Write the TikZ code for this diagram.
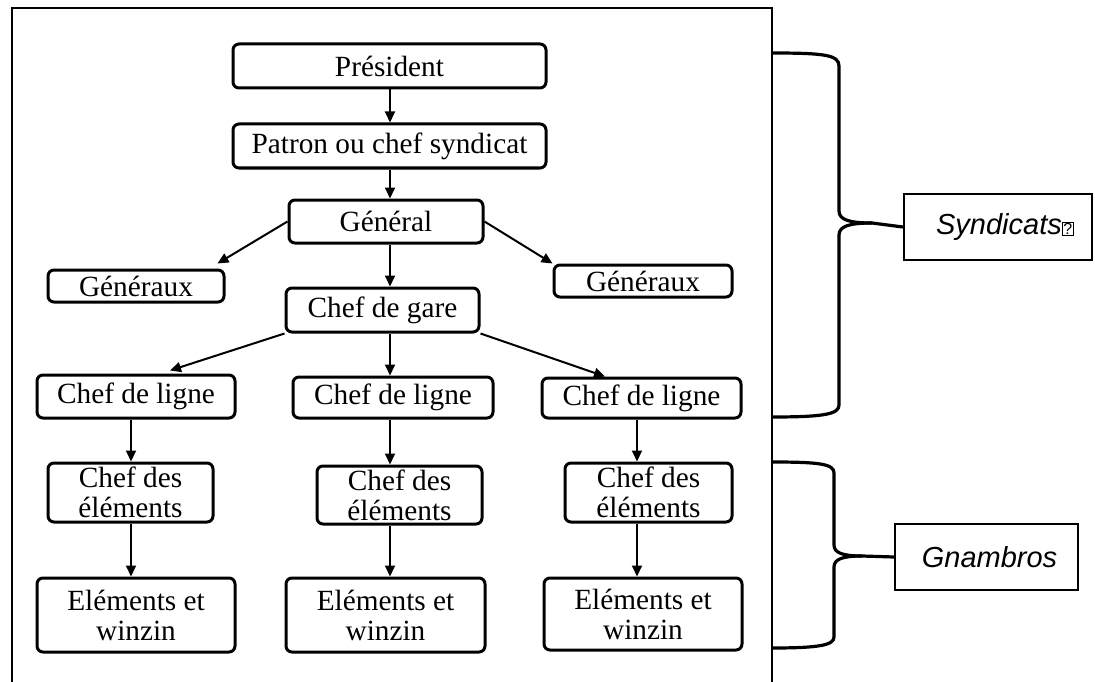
\documentclass[tikz,border=0pt]{standalone}
\usepackage{fontspec}
\setmainfont{Liberation Serif}
\newfontfamily\arialfont{Liberation Sans}
\usetikzlibrary{arrows.meta}
\begin{document}
\begin{tikzpicture}[x=1pt,y=-1pt,
  orgbox/.style={draw,line width=3pt,rounded corners=6pt,align=center,inner sep=0pt,
    font=\fontsize{29.3}{30}\selectfont},
  sidebox/.style={draw,line width=2.2pt,inner sep=0pt,font=\arialfont\itshape\fontsize{29}{30}\selectfont},
  link/.style={line width=2pt,-{Triangle[length=11pt,width=10pt]}},
  bracepath/.style={line width=3.2pt},
  framepath/.style={line width=2.2pt}]
\useasboundingbox (0,0) rectangle (1095,682);
% outer frame (open at the bottom)
\draw[framepath] (12,682) -- (12,8) -- (772,8) -- (772,682);
% column coordinates for the vertical links
\coordinate (cx) at (390,0);
\coordinate (lx) at (131,0);
\coordinate (rx) at (637,0);
% nodes
\node[orgbox,minimum width=313pt,minimum height=44pt] (pres) at (389.5,66) {Président};
\node[orgbox,minimum width=313pt,minimum height=44pt] (patron) at (389.5,146) {Patron ou chef syndicat};
\node[orgbox,minimum width=194pt,minimum height=43pt] (gen) at (386,221.5) {Général};
\node[orgbox,minimum width=176pt,minimum height=32pt] (genL) at (136,286) {Généraux};
\node[orgbox,minimum width=178pt,minimum height=32pt] (genR) at (643,281) {Généraux};
\node[orgbox,minimum width=193pt,minimum height=44pt] (gare) at (382.5,310) {Chef de gare};
\node[orgbox,minimum width=198pt,minimum height=43pt] (ligL) at (136,396.5) {Chef de ligne};
\node[orgbox,minimum width=200pt,minimum height=41pt] (ligM) at (393,397.5) {Chef de ligne};
\node[orgbox,minimum width=199pt,minimum height=40pt] (ligR) at (641.5,398) {Chef de ligne};
\node[orgbox,minimum width=165pt,minimum height=59pt] (eleL) at (130.5,492.5) {Chef des\\éléments};
\node[orgbox,minimum width=165pt,minimum height=58pt] (eleM) at (399.5,495) {Chef des\\éléments};
\node[orgbox,minimum width=167pt,minimum height=59pt] (eleR) at (648.5,492.5) {Chef des\\éléments};
\node[orgbox,minimum width=198pt,minimum height=74pt] (eltL) at (136,615) {Eléments et\\winzin};
\node[orgbox,minimum width=199pt,minimum height=74pt] (eltM) at (385.5,615) {Eléments et\\winzin};
\node[orgbox,minimum width=198pt,minimum height=72pt] (eltR) at (643,614) {Eléments et\\winzin};
% links
\draw[link] (pres.south -| cx) -- (patron.north -| cx);
\draw[link] (patron.south -| cx) -- (gen.north -| cx);
\draw[link] (gen.south -| cx) -- (gare.north -| cx);
\draw[link] (gen.west) -- ([xshift=-8pt,yshift=5pt]genL.north east);
\draw[link] (gen.east) -- (genR.north west);
\draw[link] (gare.south west) -- ([xshift=34pt,yshift=3pt]ligL.north);
\draw[link] (gare.south -| cx) -- (ligM.north -| cx);
\draw[link] (gare.south east) -- ([xshift=-36.5pt]ligR.north);
\draw[link] (ligL.south -| lx) -- (eleL.north -| lx);
\draw[link] (eleL.south -| lx) -- (eltL.north -| lx);
\draw[link] (ligM.south -| cx) -- (eleM.north -| cx);
\draw[link] (eleM.south -| cx) -- (eltM.north -| cx);
\draw[link] (ligR.south -| rx) -- (eleR.north -| rx);
\draw[link] (eleR.south -| rx) -- (eltR.north -| rx);
% side labels
\node[sidebox,minimum width=188pt,minimum height=66pt] (syn) at (998,227)
  {\hspace*{14pt}Syndicats{\upshape\setlength\fboxsep{0.8pt}\setlength\fboxrule{0.8pt}\fbox{\fontsize{16}{16}\selectfont ?}}};
\node[sidebox,minimum width=183pt,minimum height=66pt] (gna) at (986.5,557) {\hspace*{6pt}Gnambros};
% braces
\coordinate (b1t) at (772,53);
\coordinate (b1b) at (772,417);
\draw[bracepath] (b1t) .. controls (825,53) and (839,55) .. (839,66)
  -- (839,211) .. controls (839,220) and (850,223) .. (872,223) -- (syn.west);
\draw[bracepath] (872,223) .. controls (850,223) and (839,226) .. (839,235)
  -- (839,405) .. controls (839,414) and (825,417) .. (b1b);
\coordinate (b2t) at (772,462);
\coordinate (b2b) at (772,648);
\draw[bracepath] (b2t) .. controls (820,462) and (834,464) .. (834,473)
  -- (834,545) .. controls (834,553) and (843,556) .. (862,556) -- (gna.west);
\draw[bracepath] (862,556) .. controls (843,556) and (834,559) .. (834,567)
  -- (834,637) .. controls (834,645) and (820,648) .. (b2b);
\end{tikzpicture}
\end{document}
